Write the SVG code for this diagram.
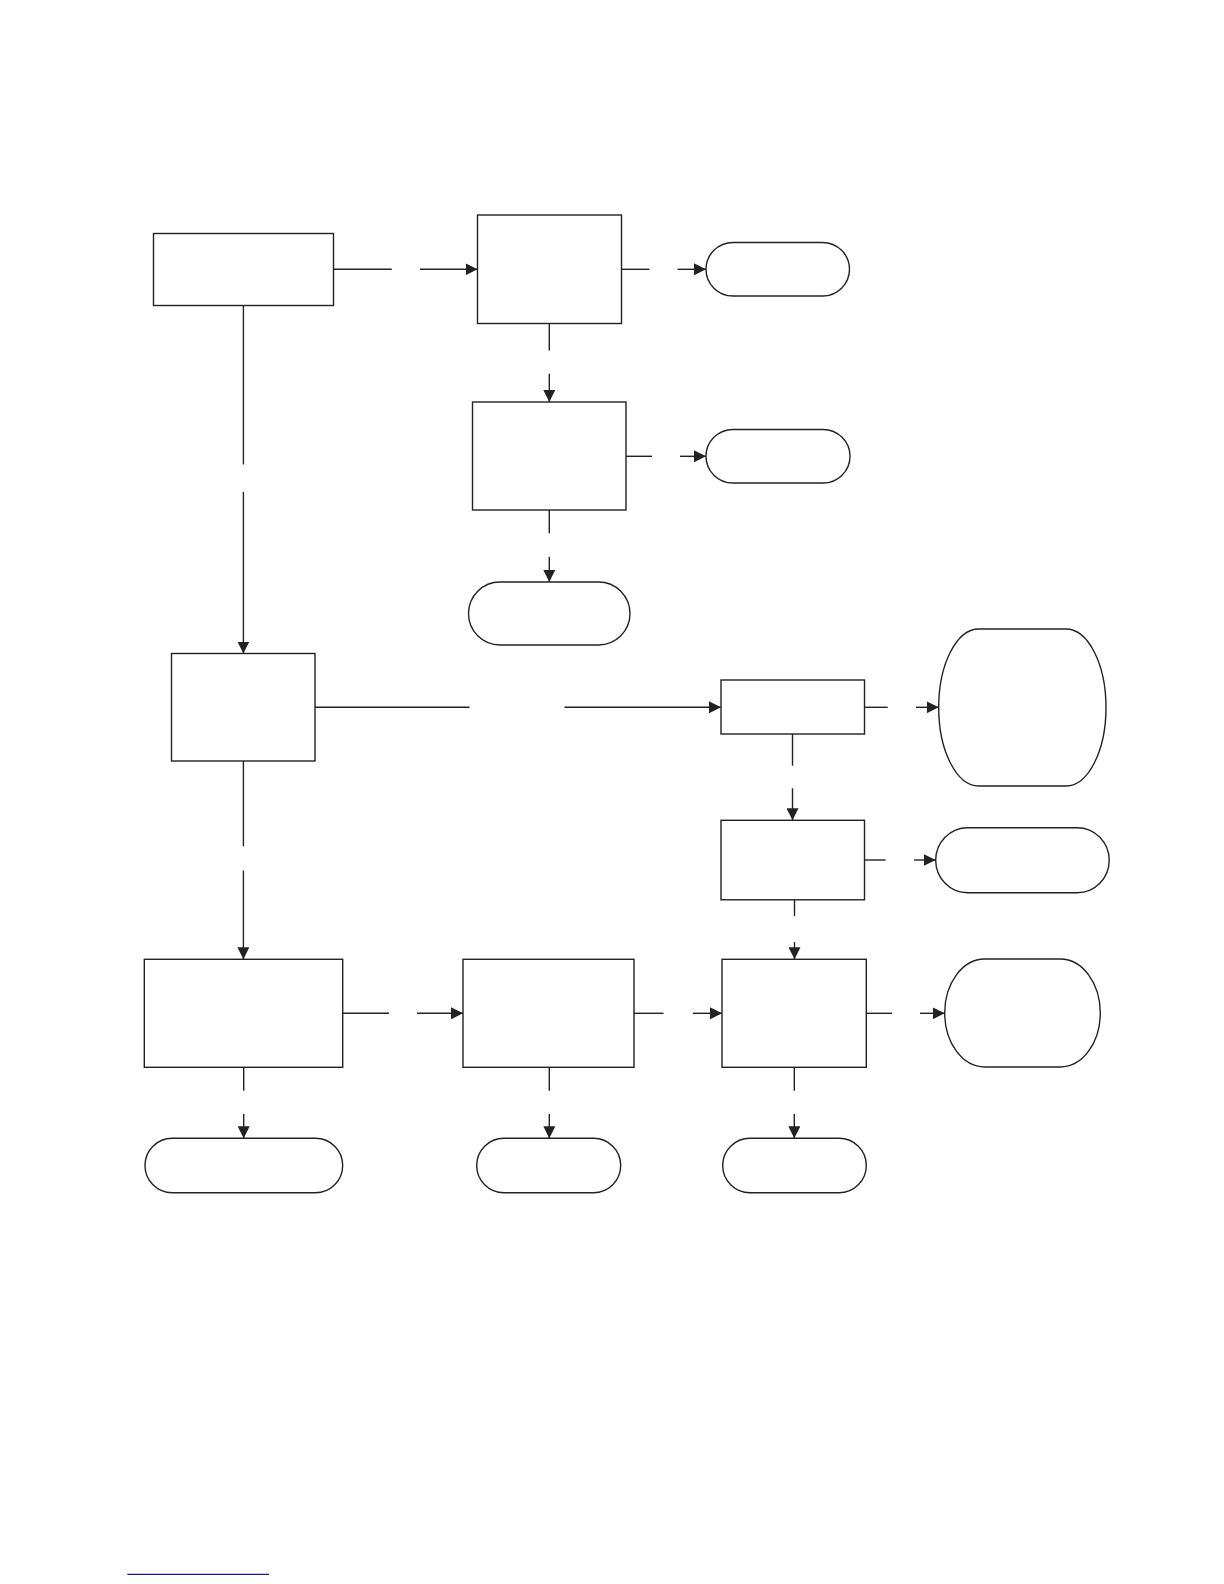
<svg xmlns="http://www.w3.org/2000/svg" width="1224" height="1584" viewBox="0 0 1224 1584">
<style>
.n{fill:#fff;stroke:#222;stroke-width:1.4}
.c{fill:none;stroke:#222;stroke-width:1.4}
</style>
<defs>
<marker id="ah" markerUnits="userSpaceOnUse" markerWidth="12" markerHeight="12" refX="12" refY="6" orient="auto">
<path d="M0,0 L12,6 L0,12 z" fill="#222"/>
</marker>
</defs>
<rect width="1224" height="1584" fill="#fff"/>
<g id="n1"><rect class="n" x="153.5" y="233.5" width="180" height="72"/></g>
<g id="n2"><rect class="n" x="477.5" y="215" width="144" height="108.5"/></g>
<g id="n3"><rect class="n" x="706" y="242.5" width="143.5" height="53.5" rx="27" ry="27"/></g>
<g id="n4"><rect class="n" x="472.5" y="402" width="153.5" height="108"/></g>
<g id="n5"><rect class="n" x="706" y="429.5" width="144" height="53.5" rx="27" ry="27"/></g>
<g id="n6"><rect class="n" x="468.5" y="582" width="161.5" height="63" rx="31.5" ry="31.5"/></g>
<g id="n7"><rect class="n" x="171.5" y="653.5" width="143.5" height="107.5"/></g>
<g id="n8"><rect class="n" x="721" y="680" width="143.5" height="54"/></g>
<g id="n9"><rect class="n" x="938.7" y="629" width="167.3" height="157" rx="40" ry="78.5"/></g>
<g id="n10"><rect class="n" x="721" y="820.3" width="143.5" height="79.5"/></g>
<g id="n11"><rect class="n" x="935.7" y="827.7" width="173.5" height="65" rx="32" ry="32.5"/></g>
<g id="n12"><rect class="n" x="144.3" y="959.3" width="198.4" height="108"/></g>
<g id="n13"><rect class="n" x="463" y="959.3" width="171" height="108"/></g>
<g id="n14"><rect class="n" x="722" y="959.3" width="144.3" height="108"/></g>
<g id="n15"><rect class="n" x="944.7" y="959" width="155.6" height="108" rx="40" ry="54"/></g>
<g id="n16"><rect class="n" x="145" y="1138.3" width="197.7" height="54.4" rx="27.2" ry="27.2"/></g>
<g id="n17"><rect class="n" x="476.7" y="1138.3" width="144" height="54.4" rx="27.2" ry="27.2"/></g>
<g id="n18"><rect class="n" x="722.7" y="1138.3" width="143.6" height="54.4" rx="27.2" ry="27.2"/></g>
<g id="connectors">
<line class="c" x1="333.5" y1="269.3" x2="391.7" y2="269.3"/>
<line class="c" x1="420" y1="269.3" x2="477.5" y2="269.3" marker-end="url(#ah)"/>
<line class="c" x1="621.5" y1="269.3" x2="649.4" y2="269.3"/>
<line class="c" x1="677.6" y1="269.3" x2="706" y2="269.3" marker-end="url(#ah)"/>
<line class="c" x1="549.3" y1="323.5" x2="549.3" y2="350.4"/>
<line class="c" x1="549.3" y1="373.7" x2="549.3" y2="402" marker-end="url(#ah)"/>
<line class="c" x1="626" y1="456.3" x2="652" y2="456.3"/>
<line class="c" x1="680" y1="456.3" x2="706" y2="456.3" marker-end="url(#ah)"/>
<line class="c" x1="549.3" y1="510" x2="549.3" y2="533.3"/>
<line class="c" x1="549.3" y1="556.7" x2="549.3" y2="582" marker-end="url(#ah)"/>
<line class="c" x1="243.4" y1="305.5" x2="243.4" y2="464.5"/>
<line class="c" x1="243.4" y1="491.8" x2="243.4" y2="653.5" marker-end="url(#ah)"/>
<line class="c" x1="315" y1="707.3" x2="469.6" y2="707.3"/>
<line class="c" x1="564.5" y1="707.3" x2="721" y2="707.3" marker-end="url(#ah)"/>
<line class="c" x1="864.5" y1="707.3" x2="887.7" y2="707.3"/>
<line class="c" x1="916" y1="707.3" x2="938.7" y2="707.3" marker-end="url(#ah)"/>
<line class="c" x1="792.5" y1="734" x2="792.5" y2="765.7"/>
<line class="c" x1="792.5" y1="788.3" x2="792.5" y2="820.3" marker-end="url(#ah)"/>
<line class="c" x1="864.5" y1="860" x2="885.7" y2="860"/>
<line class="c" x1="914" y1="860" x2="935.7" y2="860" marker-end="url(#ah)"/>
<line class="c" x1="794.5" y1="899.8" x2="794.5" y2="916"/>
<line class="c" x1="794.5" y1="942" x2="794.5" y2="959.3" marker-end="url(#ah)"/>
<line class="c" x1="243.4" y1="761" x2="243.4" y2="846.3"/>
<line class="c" x1="243.4" y1="870.5" x2="243.4" y2="959.3" marker-end="url(#ah)"/>
<line class="c" x1="342.7" y1="1013.3" x2="389" y2="1013.3"/>
<line class="c" x1="417" y1="1013.3" x2="463" y2="1013.3" marker-end="url(#ah)"/>
<line class="c" x1="634" y1="1013.3" x2="663.5" y2="1013.3"/>
<line class="c" x1="692.8" y1="1013.3" x2="722" y2="1013.3" marker-end="url(#ah)"/>
<line class="c" x1="866.3" y1="1013.3" x2="892" y2="1013.3"/>
<line class="c" x1="920" y1="1013.3" x2="944.7" y2="1013.3" marker-end="url(#ah)"/>
<line class="c" x1="243.7" y1="1067.3" x2="243.7" y2="1090.7"/>
<line class="c" x1="243.7" y1="1114" x2="243.7" y2="1138.3" marker-end="url(#ah)"/>
<line class="c" x1="549.3" y1="1067.3" x2="549.3" y2="1090.7"/>
<line class="c" x1="549.3" y1="1114" x2="549.3" y2="1138.3" marker-end="url(#ah)"/>
<line class="c" x1="794.3" y1="1067.3" x2="794.3" y2="1090.7"/>
<line class="c" x1="794.3" y1="1114" x2="794.3" y2="1138.3" marker-end="url(#ah)"/>
</g>
<line x1="127.3" y1="1574.3" x2="269" y2="1574.3" stroke="#1a1a9a" stroke-width="1.2"/>
</svg>
